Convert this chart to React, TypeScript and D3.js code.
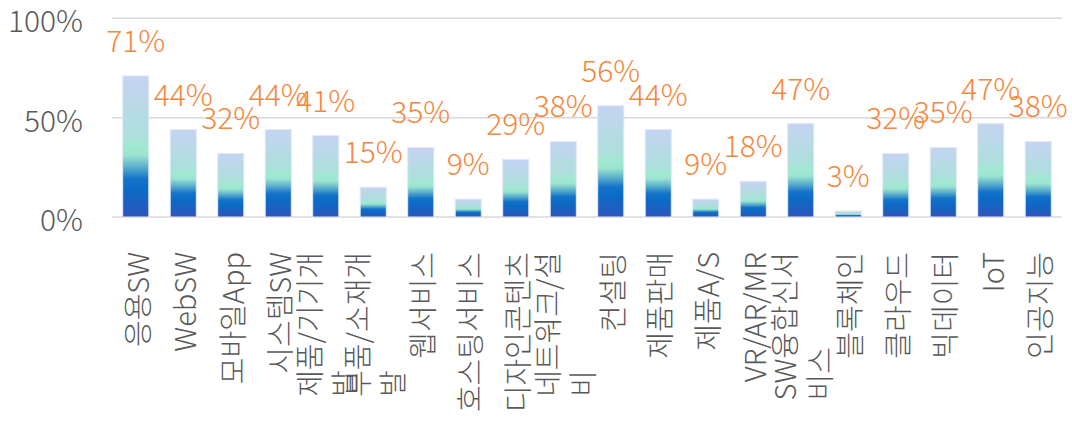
import React, { useEffect, useRef } from "react";
import * as d3 from "d3";

const categories: string[][] = [
  ["응용SW"],
  ["WebSW"],
  ["모바일App"],
  ["시스템SW"],
  ["제품/기기개", "발"],
  ["부품/소재개", "발"],
  ["웹서비스"],
  ["호스팅서비스"],
  ["디자인콘텐츠"],
  ["네트워크/설", "비"],
  ["컨설팅"],
  ["제품판매"],
  ["제품A/S"],
  ["VR/AR/MR"],
  ["SW융합신서", "비스"],
  ["블록체인"],
  ["클라우드"],
  ["빅데이터"],
  ["IoT"],
  ["인공지능"],
];
const values: number[] = [71, 44, 32, 44, 41, 15, 35, 9, 29, 38, 56, 44, 9, 18, 47, 3, 32, 35, 47, 38];
const yTicks: number[] = [0, 50, 100];

const W = 1072;
const H = 428;
const FONT = "'Noto Sans CJK KR', 'Noto Sans', sans-serif";

export default function App() {
  const ref = useRef<SVGSVGElement | null>(null);

  useEffect(() => {
    const svg = d3.select(ref.current);
    svg.selectAll("*").remove();

    const x = d3
      .scaleBand<number>()
      .domain(d3.range(categories.length))
      .range([112, 1062])
      .paddingInner(0.45)
      .paddingOuter(0.225);
    const y = d3.scaleLinear().domain([0, 100]).range([217, 18.3]);

    const defs = svg.append("defs");
    const grad = defs
      .append("linearGradient")
      .attr("id", "barGrad")
      .attr("x1", 0)
      .attr("y1", 0)
      .attr("x2", 0)
      .attr("y2", 1);
    const stops: [number, string][] = [
      [0, "#c5d3f3"],
      [0.42, "#addfdc"],
      [0.5, "#a0e9d1"],
      [0.56, "#9ce4d0"],
      [0.64, "#5fb3cc"],
      [0.73, "#1573c8"],
      [0.8, "#0a6cc6"],
      [1, "#2d55bc"],
    ];
    stops.forEach(([o, c]) => grad.append("stop").attr("offset", o).attr("stop-color", c));

    // gridlines
    svg
      .append("g")
      .selectAll("line")
      .data(yTicks)
      .join("line")
      .attr("x1", 112)
      .attr("x2", 1062)
      .attr("y1", (d) => y(d))
      .attr("y2", (d) => y(d))
      .attr("stroke", "#d9d9d9")
      .attr("stroke-width", 1.5);

    // y labels
    svg
      .append("g")
      .selectAll("text")
      .data(yTicks)
      .join("text")
      .attr("x", 83)
      .attr("y", (d) => y(d) + 1)
      .attr("text-anchor", "end")
      .attr("dominant-baseline", "central")
      .attr("font-family", FONT)
      .attr("font-size", 30)
      .attr("font-weight", 300)
      .attr("fill", "#595959")
      .text((d) => d + "%");

    // bars
    svg
      .append("g")
      .selectAll("rect")
      .data(values)
      .join("rect")
      .attr("x", (_, i) => x(i)!)
      .attr("width", x.bandwidth())
      .attr("y", (d) => y(d))
      .attr("height", (d) => y(0) - y(d))
      .attr("fill", "url(#barGrad)")
      .attr("stroke", "#e2e8f6")
      .attr("stroke-width", 1);

    // value labels
    svg
      .append("g")
      .selectAll("text")
      .data(values)
      .join("text")
      .attr("x", (_, i) => x(i)! + x.bandwidth() / 2)
      .attr("y", (d) => y(d) - 24)
      .attr("text-anchor", "middle")
      .attr("font-family", FONT)
      .attr("font-size", 30)
      .attr("font-weight", 300)
      .attr("fill", "#f4873d")
      .text((d) => d + "%");

    // category labels
    const lineH = 35;
    const labG = svg.append("g");
    categories.forEach((lines, i) => {
      const cx = x(i)! + x.bandwidth() / 2;
      const g = labG.append("g").attr("transform", `translate(${cx},252) rotate(-90)`);
      const texts = lines.map((ln, j) =>
        g
          .append("text")
          .attr("x", 0)
          .attr("y", (j - (lines.length - 1) / 2) * lineH)
          .attr("dominant-baseline", "central")
          .attr("text-anchor", "start")
          .attr("font-family", FONT)
          .attr("font-size", 29)
          .attr("font-weight", 300)
          .attr("fill", "#595959")
          .text(ln)
      );
      const maxLen = d3.max(texts, (t) => (t.node() as SVGTextElement).getComputedTextLength()) || 0;
      texts.forEach((t) => t.attr("x", -maxLen));
    });
  }, []);

  return (
    <svg
      ref={ref}
      width={W}
      height={H}
      style={{ position: "absolute", left: 0, top: 0, background: "#fff" }}
    />
  );
}
